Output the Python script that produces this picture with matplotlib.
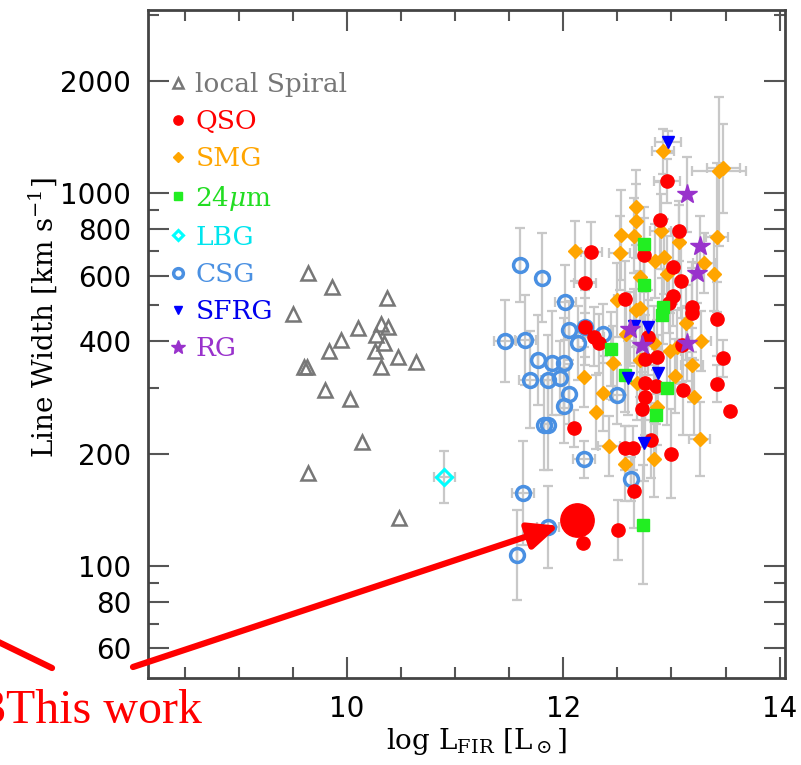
import matplotlib
matplotlib.use("Agg")
import matplotlib.pyplot as plt
import numpy as np

plt.rcParams["mathtext.fontset"] = "dejavuserif"

# local spirals (log L_FIR, line width km/s)
spiral_x = [9.64, 9.86, 10.37, 9.50, 10.10, 10.31, 10.38, 10.27, 10.34, 9.94, 9.83,
            10.26, 10.47, 10.64, 10.31, 9.60, 9.63, 9.80, 10.03, 10.14, 9.64, 10.48]
spiral_y = [611, 559, 522, 474, 434, 445, 438, 416, 397, 404, 378,
            378, 363, 353, 341, 341, 341, 296, 280, 215, 177, 134]

# QSO
qso_x = [12.96, 12.89, 13.07, 12.26, 12.75, 13.01, 13.09, 12.20, 12.57, 13.01, 12.98,
         13.19, 13.19, 13.42, 12.20, 12.28, 12.33, 12.78, 13.10, 12.76, 12.87, 13.48,
         12.76, 12.86, 13.11, 13.42, 12.76, 12.73, 13.54, 12.81, 12.57, 12.64, 13.00,
         12.10, 12.65, 12.51, 12.18]
qso_y = [1077, 849, 791, 695, 682, 635, 581, 574, 521, 528, 507,
         495, 477, 459, 436, 412, 395, 410, 391, 358, 363, 360,
         309, 303, 296, 308, 283, 263, 261, 217, 207, 207, 200,
         234, 159, 125, 115]
qso_yerr = [0.06, 0.10, 0.08, 0.08, 0.10, 0.10, 0.10, 0.08, 0.10, 0.08, 0.08,
            0.12, 0.12, 0.10, 0.10, 0.08, 0.08, 0.10, 0.10, 0.12, 0.10, 0.05,
            0.10, 0.10, 0.12, 0.05, 0.10, 0.10, 0.00, 0.10, 0.06, 0.06, 0.12,
            0.05, 0.10, 0.08, 0.00]
qso_xerr = [0.12, 0.0, 0.0, 0.1, 0.0, 0.0, 0.0, 0.1, 0.1, 0.0, 0.0,
            0.0, 0.0, 0.0, 0.0, 0.1, 0.0, 0.0, 0.0, 0.0, 0.0, 0.0,
            0.0, 0.0, 0.0, 0.0, 0.0, 0.0, 0.0, 0.0, 0.0, 0.0, 0.0,
            0.0, 0.0, 0.0, 0.0]

# SMG
smg_x = [12.92, 13.44, 13.48, 12.67, 12.67, 12.53, 12.65, 12.90, 13.07, 13.42, 12.11,
         12.52, 12.85, 12.93, 13.30, 13.39, 12.96, 12.71, 12.50, 12.67, 12.71, 13.13,
         12.58, 12.84, 12.99, 13.05, 13.27, 12.46, 12.19, 12.71, 13.19, 13.03, 12.68,
         12.37, 13.21, 12.87, 12.30, 13.26, 12.42, 12.57, 12.84]
smg_y = [1296, 1146, 1165, 916, 841, 772, 769, 789, 739, 761, 700,
         690, 657, 675, 649, 608, 608, 597, 517, 486, 491, 449,
         419, 395, 378, 387, 401, 350, 321, 357, 346, 323, 309,
         290, 283, 266, 259, 219, 210, 188, 193]
smg_yerr = [0.06, 0.20, 0.12, 0.10, 0.10, 0.12, 0.10, 0.10, 0.10, 0.20, 0.08,
            0.10, 0.10, 0.10, 0.08, 0.10, 0.10, 0.10, 0.10, 0.10, 0.10, 0.10,
            0.10, 0.10, 0.10, 0.10, 0.08, 0.10, 0.08, 0.10, 0.10, 0.10, 0.10,
            0.10, 0.10, 0.10, 0.10, 0.10, 0.08, 0.10, 0.10]
smg_xerr = [0.1, 0.25, 0.15, 0.0, 0.0, 0.0, 0.0, 0.1, 0.0, 0.1, 0.0,
            0.1, 0.0, 0.0, 0.1, 0.0, 0.0, 0.0, 0.0, 0.0, 0.0, 0.0,
            0.0, 0.0, 0.1, 0.0, 0.1, 0.0, 0.0, 0.0, 0.1, 0.0, 0.0,
            0.0, 0.0, 0.0, 0.0, 0.1, 0.1, 0.0, 0.0]

# 24 micron
mir_x = [12.75, 12.75, 12.92, 12.91, 12.44, 12.57, 12.96, 12.86, 12.74]
mir_y = [730, 566, 496, 471, 382, 326, 300, 254, 129]
mir_yerr = [0.10, 0.10, 0.10, 0.10, 0.10, 0.10, 0.10, 0.12, 0.16]

# LBG
lbg_x = [10.90]
lbg_y = [173]
lbg_yerr = [0.07]
lbg_xerr = [0.1]

# CSG
csg_x = [11.60, 11.80, 12.02, 11.46, 11.65, 12.05, 12.20, 12.37, 12.14, 11.77, 11.90,
         12.01, 11.69, 11.86, 11.97, 12.05, 12.01, 12.50, 11.82, 11.86, 12.19, 12.63,
         11.63, 11.86, 11.57]
csg_y = [641, 593, 509, 402, 404, 428, 436, 420, 396, 357, 350,
         350, 316, 316, 319, 289, 269, 288, 239, 239, 193, 171,
         157, 127, 107]
csg_yerr = [0.10, 0.12, 0.10, 0.11, 0.12, 0.08, 0.08, 0.08, 0.10, 0.12, 0.14,
            0.12, 0.13, 0.12, 0.10, 0.08, 0.10, 0.08, 0.12, 0.12, 0.05, 0.06,
            0.14, 0.11, 0.12]
csg_xerr = [0.0, 0.0, 0.1, 0.1, 0.1, 0.0, 0.0, 0.0, 0.0, 0.0, 0.0,
            0.0, 0.1, 0.0, 0.0, 0.0, 0.0, 0.1, 0.0, 0.0, 0.1, 0.0,
            0.1, 0.1, 0.0]

# SFRG
sfrg_x = [12.97, 12.65, 12.78, 12.88, 12.60, 12.75]
sfrg_y = [1372, 440, 436, 330, 319, 213]
sfrg_yerr = [0.03, 0.10, 0.10, 0.10, 0.10, 0.10]
sfrg_xerr = [0.12, 0.0, 0.0, 0.0, 0.0, 0.0]

# RG
rg_x = [13.14, 13.26, 13.24, 12.62, 12.73, 13.14]
rg_y = [993, 722, 609, 432, 391, 395]
rg_yerr = [0.10, 0.08, 0.08, 0.10, 0.10, 0.10]

# this work
this_x = [12.13]
this_y = [133]


def asym(y, e):
    y = np.asarray(y, float)
    e = np.asarray(e, float)
    return [y - y / 10 ** e, y * 10 ** e - y]


fig = plt.figure(figsize=(8.01, 7.65), dpi=100)
ax = fig.add_axes([148 / 801, 1 - 678 / 765, 637 / 801, 668 / 765])
ax.set_yscale("log")

ekw = dict(fmt="none", ecolor="#c8c8c8", elinewidth=1.6, capsize=3.5, capthick=1.6, zorder=1)
ax.errorbar(csg_x, csg_y, yerr=asym(csg_y, csg_yerr), xerr=csg_xerr, **ekw)
ax.errorbar(smg_x, smg_y, yerr=asym(smg_y, smg_yerr), xerr=smg_xerr, **ekw)
ax.errorbar(qso_x, qso_y, yerr=asym(qso_y, qso_yerr), xerr=qso_xerr, **ekw)
ax.errorbar(mir_x, mir_y, yerr=asym(mir_y, mir_yerr), **ekw)
ax.errorbar(sfrg_x, sfrg_y, yerr=asym(sfrg_y, sfrg_yerr), xerr=sfrg_xerr, **ekw)
ax.errorbar(rg_x, rg_y, yerr=asym(rg_y, rg_yerr), **ekw)
ax.errorbar(lbg_x, lbg_y, yerr=asym(lbg_y, lbg_yerr), xerr=lbg_xerr, **ekw)

h_sp, = ax.plot(spiral_x, spiral_y, "^", ls="none", ms=10, mfc="none", mec="#777777", mew=1.8,
                label="local Spiral", zorder=3)
h_csg, = ax.plot(csg_x, csg_y, "o", ls="none", ms=10, mfc="none", mec="#4a90e2", mew=2.5,
                 label="CSG", zorder=3)
h_smg, = ax.plot(smg_x, smg_y, "D", ls="none", ms=7.5, color="#ffa500", mec="#ffa500",
                 label="SMG", zorder=4)
h_qso, = ax.plot(qso_x, qso_y, "o", ls="none", ms=9.5, color="#ff0000",
                 label="QSO", zorder=5)
h_mir, = ax.plot(mir_x, mir_y, "s", ls="none", ms=9, color="#22ee22",
                 label="24$\\mu$m", zorder=6)
h_lbg, = ax.plot(lbg_x, lbg_y, "D", ls="none", ms=8, mfc="none", mec="#00ffff", mew=2.2,
                 label="LBG", zorder=6)
h_sfrg, = ax.plot(sfrg_x, sfrg_y, "v", ls="none", ms=9, color="#0000ff",
                  label="SFRG", zorder=7)
h_rg, = ax.plot(rg_x, rg_y, "*", ls="none", ms=15, color="#9932cc",
                label="RG", zorder=7)
ax.plot(this_x, this_y, "o", ls="none", ms=24, color="#ff0000", zorder=10)

ax.set_xlim(8.16, 14.05)
ax.set_ylim(50, 3100)

ax.set_xticks([10, 12, 14])
ax.set_xticklabels(["10", "12", "14"])
ax.set_xticks(np.arange(8.5, 14.0, 0.5), minor=True)
ax.set_yticks([60, 80, 100, 200, 400, 600, 800, 1000, 2000])
ax.set_yticklabels(["60", "80", "100", "200", "400", "600", "800", "1000", "2000"])
ax.set_yticks([70, 90, 300, 500, 700, 900, 3000], minor=True)
ax.yaxis.set_minor_formatter(plt.NullFormatter())
ax.tick_params(which="both", direction="in", top=True, right=True, color="#555555", width=1.5,
               labelsize=20)
ax.tick_params(which="major", length=15, pad=12)
ax.tick_params(which="minor", length=8)
for s in ax.spines.values():
    s.set_linewidth(2)
    s.set_color("#444444")

ax.set_ylabel("Line Width [km s$^{-1}$]", family="DejaVu Serif", fontsize=20)
ax.yaxis.set_label_coords(-0.14, 0.54)
ax.set_xlabel("log L$_{\\rm FIR}$ [L$_\\odot$]", family="DejaVu Serif", fontsize=20)
ax.xaxis.set_label_coords(0.516, -0.072)

handles = [h_sp, h_qso, h_smg, h_mir, h_lbg, h_csg, h_sfrg, h_rg]
colors = ["#777777", "#ff0000", "#ffa500", "#22dd22", "#00e5ee", "#4a90e2", "#0000ee", "#9932cc"]
leg = ax.legend(handles=handles, loc="upper left", bbox_to_anchor=(0.035, 0.907), frameon=False,
                borderaxespad=0, borderpad=0, handlelength=0.6, handletextpad=0.35,
                labelspacing=0.46, markerscale=0.7, prop={"family": "DejaVu Serif", "size": 19})
for t, c in zip(leg.get_texts(), colors):
    t.set_color(c)

# "This work" callout
ax.annotate("", xy=(this_x[0], this_y[0]), xycoords="data",
            xytext=(133 / 801, 98 / 765), textcoords="figure fraction",
            arrowprops=dict(arrowstyle="-|>,head_length=1.8,head_width=0.8", color="#ff0000",
                            lw=4.5, shrinkA=0, shrinkB=14),
            annotation_clip=False, zorder=11)
ax.annotate("", xy=(52 / 801, 97 / 765), xycoords="figure fraction",
            xytext=(-20 / 801, 132 / 765), textcoords="figure fraction",
            arrowprops=dict(arrowstyle="-", color="#ff0000", lw=4.5, shrinkA=0, shrinkB=0),
            annotation_clip=False)
fig.text(-18 / 801, 42 / 765, "3This work", color="#ff0000", family="Liberation Serif",
         fontsize=34.5, ha="left", va="baseline")

fig.savefig("out.png", dpi=100)
